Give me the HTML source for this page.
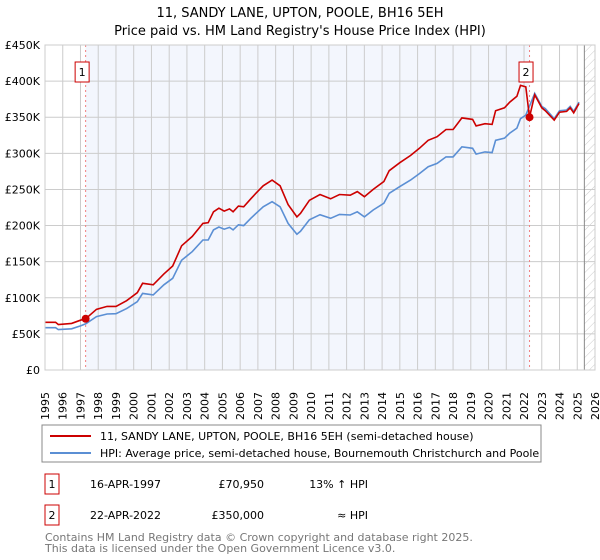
<!DOCTYPE html>
<html><head><meta charset="utf-8"><style>
body{margin:0;background:#fff;font-family:"Liberation Sans","DejaVu Sans",sans-serif;}
#wrap{position:relative;width:600px;height:560px;overflow:hidden}
</style></head><body><div id="wrap">
<svg id="chart" width="600" height="560" xmlns="http://www.w3.org/2000/svg" font-family="DejaVu Sans, Liberation Sans, sans-serif">
<defs><pattern id="hatch" width="6" height="6" patternUnits="userSpaceOnUse" patternTransform="rotate(45)"><line x1="0" y1="0" x2="0" y2="6" stroke="#ccc" stroke-width="1"/></pattern></defs>
<text x="300" y="17" text-anchor="middle" font-size="13" fill="#000">11, SANDY LANE, UPTON, POOLE, BH16 5EH</text>
<text x="300" y="35" text-anchor="middle" font-size="13" fill="#000">Price paid vs. HM Land Registry's House Price Index (HPI)</text>
<g id="plot"></g>
<rect x="42" y="425" width="499" height="37" fill="#fff" stroke="#888"/>
<line x1="50" y1="436" x2="91" y2="436" stroke="#cc0000" stroke-width="2"/>
<text x="100" y="440" font-size="11">11, SANDY LANE, UPTON, POOLE, BH16 5EH (semi-detached house)</text>
<line x1="50" y1="453" x2="91" y2="453" stroke="#5b8fd4" stroke-width="2"/>
<text x="100" y="457" font-size="11">HPI: Average price, semi-detached house, Bournemouth Christchurch and Poole</text>
<rect x="45" y="474" width="14" height="20" fill="#fff" stroke="#cc0000"/>
<text x="52" y="488" text-anchor="middle" font-size="11">1</text>
<text x="90" y="488" font-size="11">16-APR-1997</text>
<text x="264" y="488" text-anchor="end" font-size="11">£70,950</text>
<text x="368" y="488" text-anchor="end" font-size="11">13% ↑ HPI</text>
<rect x="45" y="505" width="14" height="20" fill="#fff" stroke="#cc0000"/>
<text x="52" y="519" text-anchor="middle" font-size="11">2</text>
<text x="90" y="519" font-size="11">22-APR-2022</text>
<text x="264" y="519" text-anchor="end" font-size="11">£350,000</text>
<text x="368" y="519" text-anchor="end" font-size="11">≈ HPI</text>
<text x="45" y="541" font-size="11" fill="#777">Contains HM Land Registry data © Crown copyright and database right 2025.</text>
<text x="45" y="552" font-size="11" fill="#777">This data is licensed under the Open Government Licence v3.0.</text>
</svg></div>
<script>
const hpiYears=[1995.0,1995.6,1995.75,1996.5,1997.0,1997.3,1997.9,1998.5,1999.0,1999.6,2000.2,2000.5,2001.1,2001.7,2002.2,2002.7,2003.3,2003.9,2004.2,2004.5,2004.8,2005.1,2005.4,2005.6,2005.9,2006.2,2006.6,2006.9,2007.3,2007.8,2008.25,2008.7,2009.2,2009.4,2009.9,2010.5,2011.1,2011.6,2012.2,2012.6,2013.0,2013.5,2014.1,2014.4,2015.0,2015.6,2016.1,2016.6,2017.1,2017.6,2018.0,2018.5,2019.1,2019.3,2019.8,2020.2,2020.4,2020.9,2021.2,2021.6,2021.8,2022.1,2022.3,2022.6,2023.0,2023.2,2023.7,2024.0,2024.4,2024.6,2024.8,2025.1];
const hpiValues=[58.6,58.6,56,57,61,64,74,77.5,78,85,94.6,106,104,118,127,152,164,180,180,194,198,195,197.5,194,201,200,210,217,226,233,226,203,188,192,208,215,210,215.5,214.6,219,212,221.5,231,244.6,254,263,272,281.5,286,295,295,309,307,299,302,301,318,321,328,335,348,353,365,383,365,362,348,359,360,365,358,371];
const propYears=[1995.0,1995.6,1995.75,1996.5,1997.0,1997.29,1997.9,1998.5,1999.0,1999.6,2000.2,2000.5,2001.1,2001.7,2002.2,2002.7,2003.3,2003.9,2004.2,2004.5,2004.8,2005.1,2005.4,2005.6,2005.9,2006.2,2006.6,2006.9,2007.3,2007.8,2008.25,2008.7,2009.2,2009.4,2009.9,2010.5,2011.1,2011.6,2012.2,2012.6,2013.0,2013.5,2014.1,2014.4,2015.0,2015.6,2016.1,2016.6,2017.1,2017.6,2018.0,2018.5,2019.1,2019.3,2019.8,2020.2,2020.4,2020.9,2021.2,2021.6,2021.8,2022.1,2022.31,2022.6,2023.0,2023.2,2023.7,2024.0,2024.4,2024.6,2024.8,2025.1];
const propValues=[66,66,63,64.5,69,70.95,84,88,88,96,107,120,118,133,144,172,185,203,204,219,224,220,223,219,227,226,237,245,255,263,255,229,212,217,235,243,237,243,242,247,240,250,261,276,287,297,307,318,323,333,333,349,347,338,341,340,359,363,371,379,394,392,350,381,363,359,346,357,358,363,356,369];
const sales=[{n:"1",year:1997.29,value:70.95},{n:"2",year:2022.31,value:350}];
const yTicks=[0,50,100,150,200,250,300,350,400,450];
const yTickLabels=["£0","£50K","£100K","£150K","£200K","£250K","£300K","£350K","£400K","£450K"];
const xTicks=[1995,1996,1997,1998,1999,2000,2001,2002,2003,2004,2005,2006,2007,2008,2009,2010,2011,2012,2013,2014,2015,2016,2017,2018,2019,2020,2021,2022,2023,2024,2025,2026];

const NS="http://www.w3.org/2000/svg";
const L=45,R=595,T=45,B=370,X0=1995,X1=2026,YMAX=450;
const xs=y=>L+(y-X0)/(X1-X0)*(R-L);
const ys=v=>B-v/YMAX*(B-T);
const plot=document.getElementById('plot');
function mk(tag,attrs){const e=document.createElementNS(NS,tag);for(const k in attrs)e.setAttribute(k,attrs[k]);plot.appendChild(e);return e;}
let e;
e=mk('rect',{x:xs(sales[0].year),y:T,width:xs(sales[1].year)-xs(sales[0].year),height:B-T,fill:'#f3f6fd'});


const hatchStart=2025.4;
e=mk('rect',{x:xs(hatchStart),y:T,width:R-xs(hatchStart),height:B-T,fill:'url(#hatch)'});


xTicks.forEach(t=>{
 e=mk('line',{x1:xs(t),x2:xs(t),y1:T,y2:B,stroke:'#ccc','stroke-width':1});
 
 
 e=mk('text',{x:0,y:0,transform:`translate(${xs(t)+4},${420}) rotate(-90)`,'font-size':11});
 e.textContent=t;
 
 
});
yTicks.forEach((t,i)=>{
 e=mk('line',{x1:L,x2:R,y1:ys(t),y2:ys(t),stroke:'#ccc','stroke-width':1});
 
 
 e=mk('text',{x:L-5,y:ys(t)+4,'text-anchor':'end','font-size':11});
 e.textContent=yTickLabels[i];
 
 
});
e=mk('line',{x1:xs(hatchStart),x2:xs(hatchStart),y1:T,y2:B,stroke:'#888','stroke-width':1});


sales.forEach(s=>{
 e=mk('line',{x1:xs(s.year),x2:xs(s.year),y1:T,y2:B,stroke:'#f08080','stroke-width':1,'stroke-dasharray':'2,3'});
 
 
});
function path(xa,va){return xa.map((x,i)=>(i?'L':'M')+xs(x).toFixed(1)+','+ys(va[i]).toFixed(1)).join('');}
e=mk('path',{d:path(hpiYears,hpiValues),fill:'none',stroke:'#5b8fd4','stroke-width':1.6});


e=mk('path',{d:path(propYears,propValues),fill:'none',stroke:'#cc0000','stroke-width':1.6});


sales.forEach(s=>{
 e=mk('circle',{cx:xs(s.year),cy:ys(s.value),r:4,fill:'#cc0000'});
 
 
 const bx=xs(s.year)-3.5;
 e=mk('rect',{x:bx-7,y:62,width:14,height:20,fill:'#fff',stroke:'#cc0000'});
 
 
 e=mk('text',{x:bx,y:76,'text-anchor':'middle','font-size':11});
 e.textContent=s.n;
 
 
});
e=mk('rect',{x:L,y:T,width:R-L,height:B-T,fill:'none',stroke:'#ccc'});


</script></body></html>
